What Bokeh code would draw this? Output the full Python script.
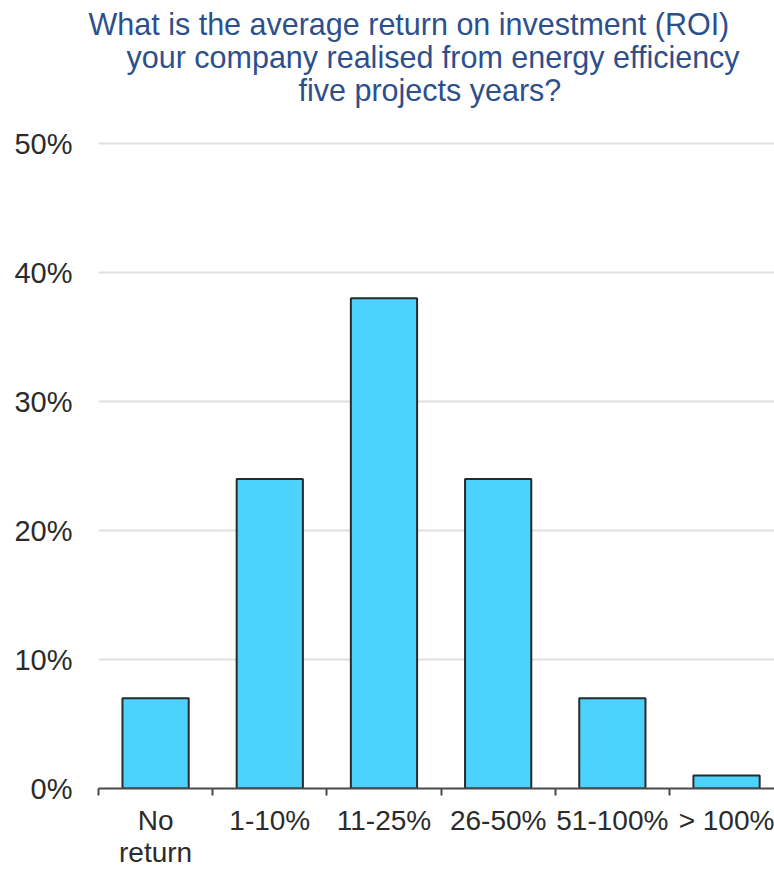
from bokeh.plotting import figure
from bokeh.models import FixedTicker, PrintfTickFormatter, Range1d, Title, ColumnDataSource
from bokeh.embed import file_html
from bokeh.resources import INLINE

# Survey answers: share of respondents per ROI band (percent)
categories = ["No\nreturn", "1-10%", "11-25%", "26-50%", "51-100%", "> 100%"]
shares = [7, 24, 38, 24, 7, 1]
y_ticks = [0, 10, 20, 30, 40, 50]
title_lines = [
    "What is the average return on investment (ROI)",
    "your company realised from energy efficiency",
    "five projects years?",
]

FONT = "Liberation Sans"
positions = [i + 0.5 for i in range(len(categories))]

TOP = 105
FRAME_H = 788 - TOP
PX_PER_PCT = 12.9

p = figure(
    width=774, height=869,
    frame_width=676, frame_height=FRAME_H,
    min_border_left=98, min_border_right=0, min_border_top=TOP, min_border_bottom=81,
    x_range=Range1d(0, 5.92), y_range=Range1d(0, FRAME_H / PX_PER_PCT),
    output_backend="svg", toolbar_location=None,
)
p.outline_line_color = None
p.background_fill_color = "white"
p.border_fill_color = "white"

src = ColumnDataSource(dict(x=positions, top=shares))
p.vbar(x="x", top="top", bottom=0, width=0.58, source=src,
       fill_color="#4cd3fd", line_color="#2a2a2a", line_width=2)

# x axis: category names under the bars, ticks at the band boundaries
xa = p.xaxis[0]
xa.ticker = FixedTicker(ticks=positions, minor_ticks=list(range(len(categories) + 1)))
xa.major_label_overrides = {pos: lab for pos, lab in zip(positions, categories)}
xa.major_tick_out = 0
xa.major_tick_in = 0
xa.minor_tick_out = 7
xa.minor_tick_in = 0
xa.minor_tick_line_color = "#4a4a4a"
xa.minor_tick_line_width = 2
xa.axis_line_color = "#4a4a4a"
xa.axis_line_width = 2
xa.major_label_standoff = 9
xa.major_label_text_font = FONT
xa.major_label_text_font_size = "28px"
xa.major_label_text_color = "#2b2b2b"
xa.major_label_text_line_height = 1.05

# y axis: percentage labels only
ya = p.yaxis[0]
ya.ticker = FixedTicker(ticks=y_ticks)
ya.formatter = PrintfTickFormatter(format="%d%%")
ya.axis_line_color = None
ya.major_tick_line_color = None
ya.minor_tick_line_color = None
ya.major_label_standoff = 20
ya.major_label_text_font = FONT
ya.major_label_text_font_size = "29px"
ya.major_label_text_color = "#2b2b2b"

p.xgrid.grid_line_color = None
p.ygrid.ticker = FixedTicker(ticks=y_ticks[1:])
p.ygrid.grid_line_color = "#e0e0e0"
p.ygrid.grid_line_width = 2

# question, one title per line; titles added later stack further up
offsets = [-10, 28, 200]
for line, off in reversed(list(zip(title_lines, offsets))):
    p.add_layout(Title(
        text=line, align="left", offset=off, standoff=-3,
        text_font=FONT, text_font_size="30.5px", text_font_style="normal",
        text_color="#2d4f8c",
    ), "above")

open("out.html", "w").write(file_html(p, INLINE))
